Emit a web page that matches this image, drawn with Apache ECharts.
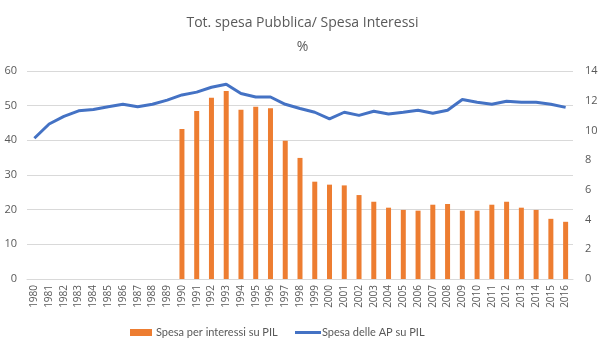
<!DOCTYPE html>
<html><head><meta charset="utf-8">
<script src="https://cdn.jsdelivr.net/npm/echarts@6/dist/echarts.min.js"></script>
<style>html,body{margin:0;padding:0;background:#fff}#c{width:605px;height:351px}</style>
</head><body><div id="c"></div>
<script>
const years = ['1980','1981','1982','1983','1984','1985','1986','1987','1988','1989','1990','1991','1992','1993','1994','1995','1996','1997','1998','1999','2000','2001','2002','2003','2004','2005','2006','2007','2008','2009','2010','2011','2012','2013','2014','2015','2016'];
const interessi = [null,null,null,null,null,null,null,null,null,null,10.1,11.3,12.2,12.65,11.4,11.6,11.5,9.3,8.15,6.55,6.35,6.3,5.65,5.2,4.8,4.65,4.6,5.0,5.05,4.6,4.6,5.0,5.2,4.8,4.65,4.05,3.85];
const spesaAP = [40.6,44.7,46.9,48.5,48.9,49.7,50.4,49.7,50.4,51.6,53.1,53.9,55.3,56.2,53.5,52.5,52.5,50.4,49.2,48.1,46.2,48.1,47.2,48.4,47.6,48.1,48.7,47.8,48.7,51.8,51.0,50.4,51.3,51.0,51.0,50.4,49.5];
const seriesNames = ['Spesa per interessi su PIL','Spesa delle AP su PIL'];
const leftTicks = {min:0,max:60,interval:10};
const rightTicks = {min:0,max:14,interval:2};
const txt = '#595959';
const font = 'Open Sans';
const legFont = 'Lato';
const legSize = 11;
const cv = document.createElement('canvas').getContext('2d');
cv.font = legSize + 'px ' + legFont;
const w1 = cv.measureText(seriesNames[0]).width;
const leg1Left = 130;
const leg2Left = Math.round(leg1Left + 22 + 4 + w1 + 17);
const chart = echarts.init(document.getElementById('c'));
chart.setOption({
  animation:false,
  textStyle:{fontFamily:font},
  title:[
    {text:'Tot. spesa Pubblica/ Spesa Interessi',left:'center',top:11,textStyle:{fontSize:14,fontWeight:'normal',color:txt,fontFamily:font}},
    {text:'%',left:'center',top:35,textStyle:{fontSize:14,fontWeight:'normal',color:txt,fontFamily:font}}
  ],
  grid:{left:27,right:32,top:71,bottom:72,containLabel:false},
  legend:[
    {top:327,left:leg1Left,padding:0,itemGap:0,textStyle:{color:txt,fontSize:legSize,fontFamily:legFont,padding:[0,0,0,-1]},
     data:[{name:seriesNames[0],icon:'rect'}],itemWidth:22,itemHeight:7},
    {top:327,left:leg2Left,padding:0,itemGap:0,textStyle:{color:txt,fontSize:legSize,fontFamily:legFont,padding:[0,0,0,-4]},
     data:[{name:seriesNames[1],icon:'rect'}],itemWidth:26,itemHeight:3}
  ],
  xAxis:{type:'category',data:years,boundaryGap:true,
    axisLine:{lineStyle:{color:'#D9D9D9'}},axisTick:{show:false},
    axisLabel:{rotate:90,color:txt,fontSize:10,interval:0,margin:6}},
  yAxis:[
    {type:'value',min:leftTicks.min,max:leftTicks.max,interval:leftTicks.interval,
      axisLine:{show:false},axisTick:{show:false},
      axisLabel:{color:txt,fontSize:11,margin:10},
      splitLine:{lineStyle:{color:'#D9D9D9'}}},
    {type:'value',min:rightTicks.min,max:rightTicks.max,interval:rightTicks.interval,
      axisLine:{show:false},axisTick:{show:false},
      axisLabel:{color:txt,fontSize:11,margin:12},
      splitLine:{show:false}}
  ],
  series:[
    {name:seriesNames[0],type:'bar',yAxisIndex:1,data:interessi,barWidth:5,itemStyle:{color:'#ED7D31'}},
    {name:seriesNames[1],type:'line',yAxisIndex:0,data:spesaAP,symbol:'none',lineStyle:{color:'#4472C4',width:3},itemStyle:{color:'#4472C4'}}
  ]
});
</script></body></html>
